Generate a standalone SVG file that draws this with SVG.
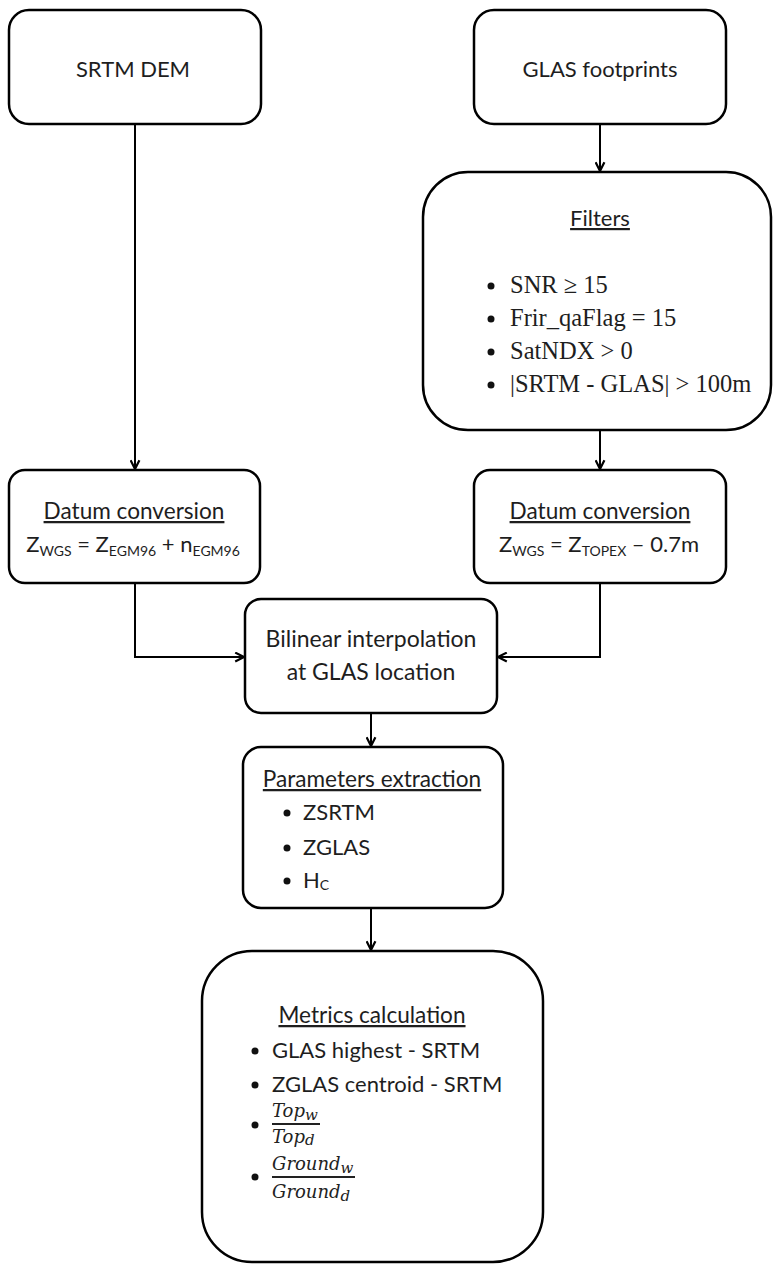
<svg xmlns="http://www.w3.org/2000/svg" width="773" height="1266" viewBox="0 0 773 1266">
<style>
.box{fill:#fff;stroke:#000;stroke-width:2.5}
.t{font-family:Lato,"Noto Sans",sans-serif;font-size:22px;fill:#1e1e1e}
.h{font-size:22.6px}
.u{text-decoration:underline}
.tm{font-family:"Liberation Serif",serif;font-size:24.5px;fill:#1e1e1e}
.sub{font-size:14px}
.m{font-family:"DejaVu Serif",serif;font-style:italic;font-size:18px;fill:#222}
.ms{font-size:15px}
.c{stroke:#000;stroke-width:2;fill:none}
.dot{fill:#111}
</style>
<defs>
<marker id="ah" viewBox="0 0 10 10" refX="9" refY="5" markerWidth="11" markerHeight="11" markerUnits="userSpaceOnUse" orient="auto">
<path d="M1,1 L9,5 L1,9" fill="none" stroke="#000" stroke-width="2"/>
</marker>
</defs>
<rect width="773" height="1266" fill="#fff"/>
<g id="connectors">
<path class="c" d="M135,124 V469" marker-end="url(#ah)"/>
<path class="c" d="M600,124 V171" marker-end="url(#ah)"/>
<path class="c" d="M600,430 V469" marker-end="url(#ah)"/>
<path class="c" d="M135,583 V657 H244" marker-end="url(#ah)"/>
<path class="c" d="M600,583 V657 H498" marker-end="url(#ah)"/>
<path class="c" d="M371,713 V746" marker-end="url(#ah)"/>
<path class="c" d="M371,908 V950" marker-end="url(#ah)"/>
</g>
<g id="srtm-dem">
<rect class="box" x="9" y="10" width="252" height="114" rx="20"/>
<text class="t" x="133" y="77" text-anchor="middle">SRTM DEM</text>
</g>
<g id="glas-footprints">
<rect class="box" x="474" y="10" width="252" height="114" rx="20"/>
<text class="t" x="600" y="77" text-anchor="middle">GLAS footprints</text>
</g>
<g id="filters">
<rect class="box" x="423" y="172" width="348" height="258" rx="45"/>
<text class="t u" x="600" y="226" text-anchor="middle">Filters</text>
<circle class="dot" cx="491" cy="286" r="3.5"/>
<circle class="dot" cx="491" cy="319" r="3.5"/>
<circle class="dot" cx="491" cy="352" r="3.5"/>
<circle class="dot" cx="491" cy="385" r="3.5"/>
<text class="tm" x="510" y="293">SNR ≥ 15</text>
<text class="tm" x="510" y="326">Frir_qaFlag = 15</text>
<text class="tm" x="510" y="359">SatNDX &gt; 0</text>
<text class="tm" x="510" y="392">|SRTM - GLAS| &gt; 100m</text>
</g>
<g id="datum-left">
<rect class="box" x="9" y="470" width="251" height="113" rx="16"/>
<text class="t h u" x="134" y="519" text-anchor="middle">Datum conversion</text>
<text class="t" x="133" y="552" text-anchor="middle">Z<tspan class="sub" dy="4">WGS</tspan><tspan dy="-4"> = Z</tspan><tspan class="sub" dy="4">EGM96</tspan><tspan dy="-4"> + n</tspan><tspan class="sub" dy="4">EGM96</tspan></text>
</g>
<g id="datum-right">
<rect class="box" x="474" y="470" width="252" height="113" rx="16"/>
<text class="t h u" x="600" y="519" text-anchor="middle">Datum conversion</text>
<text class="t" x="599" y="552" text-anchor="middle">Z<tspan class="sub" dy="4">WGS</tspan><tspan dy="-4"> = Z</tspan><tspan class="sub" dy="4">TOPEX</tspan><tspan dy="-4"> – 0.7m</tspan></text>
</g>
<g id="bilinear">
<rect class="box" x="245" y="599" width="252" height="114" rx="16"/>
<text class="t" x="371" y="647" text-anchor="middle" style="font-size:23px">Bilinear interpolation</text>
<text class="t" x="371" y="680" text-anchor="middle" style="font-size:23px">at GLAS location</text>
</g>
<g id="parameters">
<rect class="box" x="243" y="747" width="260" height="161" rx="18"/>
<text class="t h u" x="372" y="787" text-anchor="middle">Parameters extraction</text>
<circle class="dot" cx="287" cy="813" r="3.5"/>
<circle class="dot" cx="287" cy="848" r="3.5"/>
<circle class="dot" cx="287" cy="881" r="3.5"/>
<text class="t" x="303" y="820">ZSRTM</text>
<text class="t" x="303" y="855">ZGLAS</text>
<text class="t" x="303" y="888">H<tspan class="sub" dy="2">C</tspan></text>
</g>
<g id="metrics">
<rect class="box" x="202" y="951" width="341" height="311" rx="50"/>
<text class="t h u" x="372" y="1023" text-anchor="middle">Metrics calculation</text>
<circle class="dot" cx="255" cy="1051" r="3.5"/>
<circle class="dot" cx="255" cy="1085" r="3.5"/>
<circle class="dot" cx="255" cy="1125" r="3.5"/>
<circle class="dot" cx="255" cy="1177" r="3.5"/>
<text class="t" x="272" y="1058">GLAS highest - SRTM</text>
<text class="t" x="272" y="1092">ZGLAS centroid - SRTM</text>
<text class="m" x="272" y="1117">Top<tspan class="ms" dy="3">w</tspan></text>
<line x1="272" y1="1124" x2="320" y2="1124" stroke="#222" stroke-width="1.8"/>
<text class="m" x="272" y="1143">Top<tspan class="ms" dy="2">d</tspan></text>
<text class="m" x="272" y="1170">Ground<tspan class="ms" dy="3">w</tspan></text>
<line x1="272" y1="1177" x2="355" y2="1177" stroke="#222" stroke-width="1.8"/>
<text class="m" x="272" y="1198">Ground<tspan class="ms" dy="3">d</tspan></text>
</g>
</svg>
